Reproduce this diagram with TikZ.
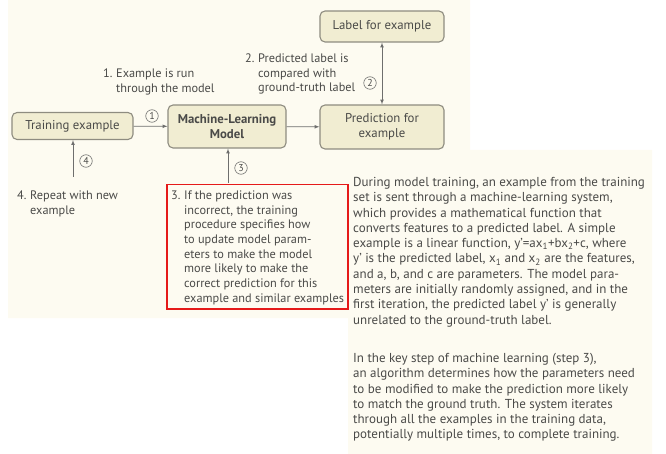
\documentclass[tikz,border=0pt]{standalone}
\usepackage{fontspec}
\setmainfont{PT Sans}
\usetikzlibrary{positioning, arrows}

\definecolor{cream}{HTML}{FDFBF1}
\definecolor{boxfill}{HTML}{F1EDD2}
\definecolor{boxline}{HTML}{8E8C80}
\definecolor{txt}{HTML}{4A4A48}
\definecolor{redbox}{HTML}{E51A1A}

\tikzset{
  stepnode/.style={draw=boxline, fill=boxfill, rounded corners=5pt, line width=1.1pt,
    text=txt, align=center, font=\fontsize{12.8}{14.5}\selectfont},
  numcirc/.style={circle, draw=txt!80, line width=0.6pt, inner sep=0pt,
    minimum size=12.5pt, text=txt, font=\fontsize{10}{10}\selectfont},
  note/.style={anchor=north west, inner sep=0pt, text=txt,
    font=\fontsize{12.3}{14.7}\selectfont},
  para/.style={anchor=north west, align=left, inner sep=0pt, text=txt,
    font=\fontsize{13}{15.3}\selectfont},
  conn/.style={->,>=latex, draw=txt!80, line width=0.7pt},
}

\newenvironment{hanglist}{\begin{tabular}{@{}p{13pt}@{}l@{}}}{\end{tabular}}

\begin{document}
\begin{tikzpicture}[x=1pt,y=-1pt]
\useasboundingbox (0,0) rectangle (666,454);
\fill[cream] (8,0) -- (470,0) -- (470,150) -- (652,150) -- (652,454) -- (348,454)
  -- (348,318) -- (8,318) -- cycle;% le fond

\node[stepnode, minimum width=121pt, minimum height=27pt] (tr) at (72.5,126) {Training example};
\node[stepnode, minimum width=118pt, minimum height=43pt,
  font=\bfseries\fontsize{12.8}{14.5}\selectfont] (ml) at (227,126.5) {Machine-Learning\\Model};
\node[stepnode, minimum width=124pt, minimum height=44pt] (pred) at (382,127) {Prediction for\\example};
\node[stepnode, minimum width=124pt, minimum height=31pt] (lab) at (382,26.5) {Label for example};

\draw[conn] (tr) -- (ml);% les fleches
\draw[conn] (ml) -- (pred);
\draw[conn, <->] (lab) -- (pred);
\coordinate (c3) at (228,183);
\draw[conn] (c3) -- (c3 |- ml.south);
\coordinate (c4) at (73,177);
\draw[conn] (c4) -- (c4 |- tr.south);

\node[numcirc] (n1) at (152,116) {1};
\node[numcirc] (n2) at (370,83) {2};
\node[numcirc] (n3) at (241,168) {3};
\node[numcirc] (n4) at (86,161) {4};

\node[note] (t1) at (103,67) {\begin{hanglist}1.&Example is run\\&through the model\end{hanglist}};
\node[note] (t2) at (245,52) {\begin{hanglist}2.&Predicted label is\\&compared with\\&ground-truth label\end{hanglist}};
\node[note] (t4) at (17,189) {\begin{hanglist}4.&Repeat with new\\&example\end{hanglist}};
\node[note] (t3) at (171,189) {\begin{hanglist}3.&If the prediction was\\&incorrect, the training\\
  &procedure specifies how\\&to update model param-\\&eters to make the model\\
  &more likely to make the\\&correct prediction for this\\&example and similar examples\end{hanglist}};
\draw[redbox, line width=1.3pt] (167,184.5) rectangle (348,309);

\node[para] (p1) at (353,177) {During model training, an example from the training\\
  set is sent through a machine-learning system,\\
  which provides a mathematical function that\\
  converts features to a predicted label. A simple\\
  example is a linear function, y'=ax\textsubscript{1}+bx\textsubscript{2}+c, where\\
  y' is the predicted label, x\textsubscript{1} and x\textsubscript{2} are the features,\\
  and a, b, and c are parameters. The model para-\\
  meters are initially randomly assigned, and in the\\
  first iteration, the predicted label y' is generally\\
  unrelated to the ground-truth label.};
\node[para] (p2) at (353,353) {In the key step of machine learning (step 3),\\
  an algorithm determines how the parameters need\\
  to be modified to make the prediction more likely\\
  to match the ground truth. The system iterates\\
  through all the examples in the training data,\\
  potentially multiple times, to complete training.};
\end{tikzpicture}
\end{document}
